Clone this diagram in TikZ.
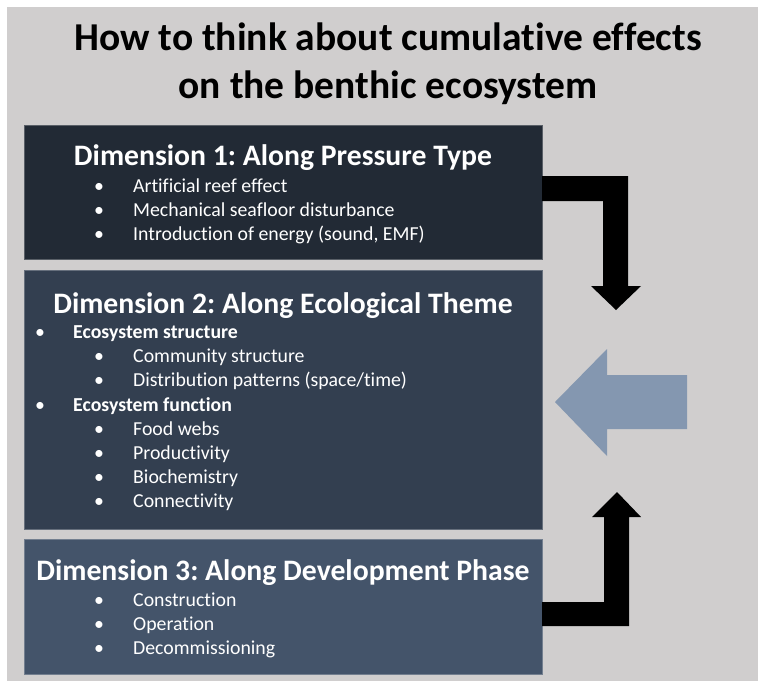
\documentclass[tikz,border=0pt]{standalone}
\usepackage{fontspec}
\setmainfont{Carlito}[Ligatures=NoCommon]
\frenchspacing
\definecolor{panel}{HTML}{D0CECE}
\definecolor{dimA}{HTML}{222A35}
\definecolor{dimB}{HTML}{333F50}
\definecolor{dimC}{HTML}{44546A}
\definecolor{feedback}{HTML}{8497B0}
\tikzset{
  titletext/.style={font=\fontsize{39.5}{46}\selectfont\bfseries, text=black, inner sep=0pt, anchor=base},
  dimbox/.style={draw=#1!75!white, line width=0.6pt, fill=#1, inner sep=0pt, outer sep=0pt, anchor=north west, minimum width=518pt},
  heading/.style={font=\fontsize{29.7}{35}\selectfont\bfseries, text=white, inner sep=0pt, anchor=base},
  item/.style={font=\fontsize{19.8}{24}\selectfont, text=white, inner sep=0pt, anchor=base west},
  itembold/.style={item, font=\fontsize{19.8}{24}\selectfont\bfseries},
  dot/.style={font=\fontsize{19.8}{24}\selectfont, text=white, inner sep=0pt, anchor=base},
  bentarrow/.style={fill=black},
  backarrow/.style={fill=feedback}
}
\begin{document}
\begin{tikzpicture}[x=1pt, y=-1pt]
\useasboundingbox (0,0) rectangle (758,681);
\fill[white] (0,0) rectangle (758,681);
\fill[panel] (7,7) rectangle (758,681);

% title
\node[titletext] (title1) at (388,50) {How to think about cumulative effects};
\node[titletext] (title2) at (388,98) {on the benthic ecosystem};

% dimension boxes
\node[dimbox=dimA, minimum height=134pt] (box1) at (24,125) {};
\node[dimbox=dimB, minimum height=259pt] (box2) at (24,270) {};
\node[dimbox=dimC, minimum height=135pt] (box3) at (24,539) {};

% dimension 1
\node[heading] (h1) at (283,165) {Dimension 1: Along Pressure Type};
\node[dot] (d1a) at (99,192) {•};
\node[item] (t1a) at (133,192) {Artificial reef effect};
\node[dot] (d1b) at (99,216) {•};
\node[item] (t1b) at (133,216) {Mechanical seafloor disturbance};
\node[dot] (d1c) at (99,240) {•};
\node[item] (t1c) at (133,240) {Introduction of energy (sound, EMF)};

% dimension 2
\node[heading] (h2) at (283,313) {Dimension 2: Along Ecological Theme};
\node[dot] (d2a) at (40,338) {•};
\node[itembold] (t2a) at (73,338) {Ecosystem structure};
\node[dot] (d2a1) at (99,362) {•};
\node[item] (t2a1) at (133,362) {Community structure};
\node[dot] (d2a2) at (99,386) {•};
\node[item] (t2a2) at (133,386) {Distribution patterns (space/time)};
\node[dot] (d2b) at (40,411) {•};
\node[itembold] (t2b) at (73,411) {Ecosystem function};
\node[dot] (d2b1) at (99,435) {•};
\node[item] (t2b1) at (133,435) {Food webs};
\node[dot] (d2b2) at (99,459) {•};
\node[item] (t2b2) at (133,459) {Productivity};
\node[dot] (d2b3) at (99,483) {•};
\node[item] (t2b3) at (133,483) {Biochemistry};
\node[dot] (d2b4) at (99,507) {•};
\node[item] (t2b4) at (133,507) {Connectivity};

% dimension 3
\node[heading] (h3) at (283,580) {Dimension 3: Along Development Phase};
\node[dot] (d3a) at (99,606) {•};
\node[item] (t3a) at (133,606) {Construction};
\node[dot] (d3b) at (99,630) {•};
\node[item] (t3b) at (133,630) {Operation};
\node[dot] (d3c) at (99,654) {•};
\node[item] (t3c) at (133,654) {Decommissioning};

% bent arrow from dimension 1 down towards the centre
\fill[bentarrow] (box1.east |- 0,176) -- (628,176) -- (628,286) -- (641,286)
  -- (616,310) -- (591,286) -- (603,286) -- (603,201) -- (box1.east |- 0,201) -- cycle;
% bent arrow from dimension 3 up towards the centre
\fill[bentarrow] (box3.east |- 0,626) -- (629,626) -- (629,517) -- (641,517)
  -- (617,492) -- (592,517) -- (604,517) -- (604,602) -- (box3.east |- 0,602) -- cycle;
% combined arrow pointing into dimension 2
\fill[backarrow] (687,375) -- (607,375) -- (607,349) -- (555,402)
  -- (607,456) -- (607,429) -- (687,429) -- cycle;
\end{tikzpicture}
\end{document}
